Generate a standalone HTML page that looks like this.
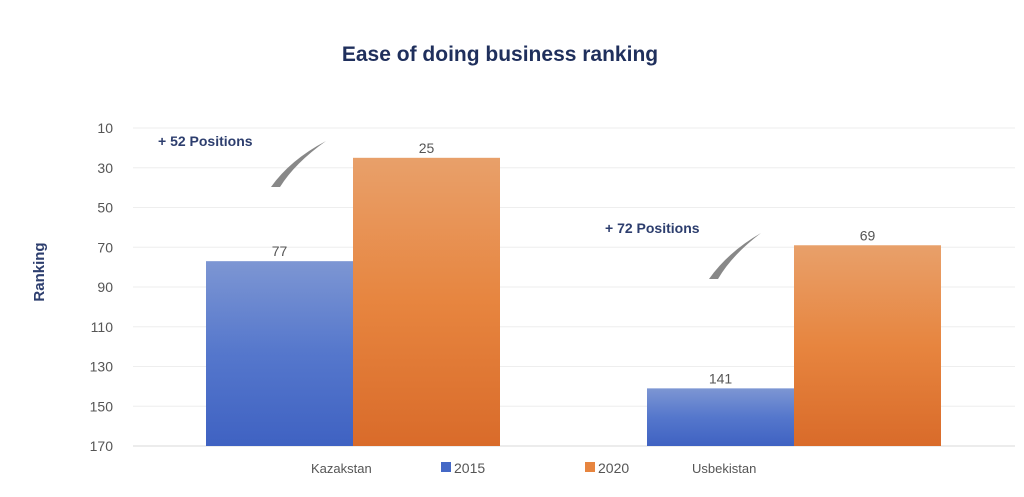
<!DOCTYPE html>
<html><head><meta charset="utf-8"><style>
body{margin:0;background:#fff;width:1024px;height:492px;overflow:hidden;font-family:"Liberation Sans",sans-serif}
</style></head><body>
<svg width="1024" height="492">
<defs>
<linearGradient id="gb" x1="0" y1="0" x2="0" y2="1"><stop offset="0" stop-color="#7d96d3"/><stop offset="0.5" stop-color="#5577cc"/><stop offset="1" stop-color="#3f62c2"/></linearGradient>
<linearGradient id="go" x1="0" y1="0" x2="0" y2="1"><stop offset="0" stop-color="#e8a06a"/><stop offset="0.5" stop-color="#e7853f"/><stop offset="1" stop-color="#d96b2a"/></linearGradient>
</defs>
<text x="500" y="61" text-anchor="middle" font-size="21" font-weight="bold" fill="#1f2f5c">Ease of doing business ranking</text>
<text transform="translate(44,272) rotate(-90)" text-anchor="middle" font-size="15" font-weight="bold" fill="#2d3e6e">Ranking</text>
<g id="grid"></g><g id="bars"></g>
<text x="158" y="146" font-size="14" font-weight="bold" fill="#2d3e6e">+ 52 Positions</text>
<path d="M271,187 Q290,160 326,141 Q295,163 280,187 Z" fill="#888"/>
<text x="605" y="233" font-size="14" font-weight="bold" fill="#2d3e6e">+ 72 Positions</text>
<path d="M709,279 Q728,252 761,233 Q732,255 718,279 Z" fill="#888"/>
<text x="311" y="473" font-size="13" fill="#555">Kazakstan</text>
<text x="692" y="473" font-size="13" fill="#555">Usbekistan</text>
<rect x="441" y="462" width="10" height="10" fill="#4468c6"/>
<text x="454" y="473" font-size="14" fill="#555">2015</text>
<rect x="585" y="462" width="10" height="10" fill="#e7853f"/>
<text x="598" y="473" font-size="14" fill="#555">2020</text>
</svg>
<script>
const categories=["Kazakhstan","Uzbekistan"];
const values2015=[77,141];
const values2020=[25,69];
const ticks=[10,30,50,70,90,110,130,150,170];
const ns="http://www.w3.org/2000/svg";
const y=v=>128+(v-10)*(446-128)/160;
const groupX=[206,647], bw=147;
const grid=document.getElementById('grid'), bars=document.getElementById('bars');
function mk(tag,attrs,parent){const e=document.createElementNS(ns,tag);for(const k in attrs)e.setAttribute(k,attrs[k]);parent.appendChild(e);return e;}
ticks.forEach(t=>{
  const l=mk('line',{x1:133,x2:1015,y1:y(t),y2:y(t),stroke:t===170?'#d8d8d8':'#eeeeee','stroke-width':1},grid);
  
  
  const tx=mk('text',{x:113,y:y(t)+5,'text-anchor':'end','font-size':14,fill:'#555'},grid);
  tx.textContent=t;
  
  
});
categories.forEach((c,i)=>{
  [[values2015[i],'url(#gb)','2015',0],[values2020[i],'url(#go)','2020',1]].forEach(([v,f,s,k])=>{
    const x=groupX[i]+k*bw;
    const r=mk('rect',{x:x,y:y(v),width:bw,height:y(170)-y(v),fill:f},bars);
    
    
    const t=mk('text',{x:x+bw/2,y:y(v)-5,'text-anchor':'middle','font-size':14,fill:'#555'},bars);
    t.textContent=v;
    
    
  });
});
</script>
</body></html>
